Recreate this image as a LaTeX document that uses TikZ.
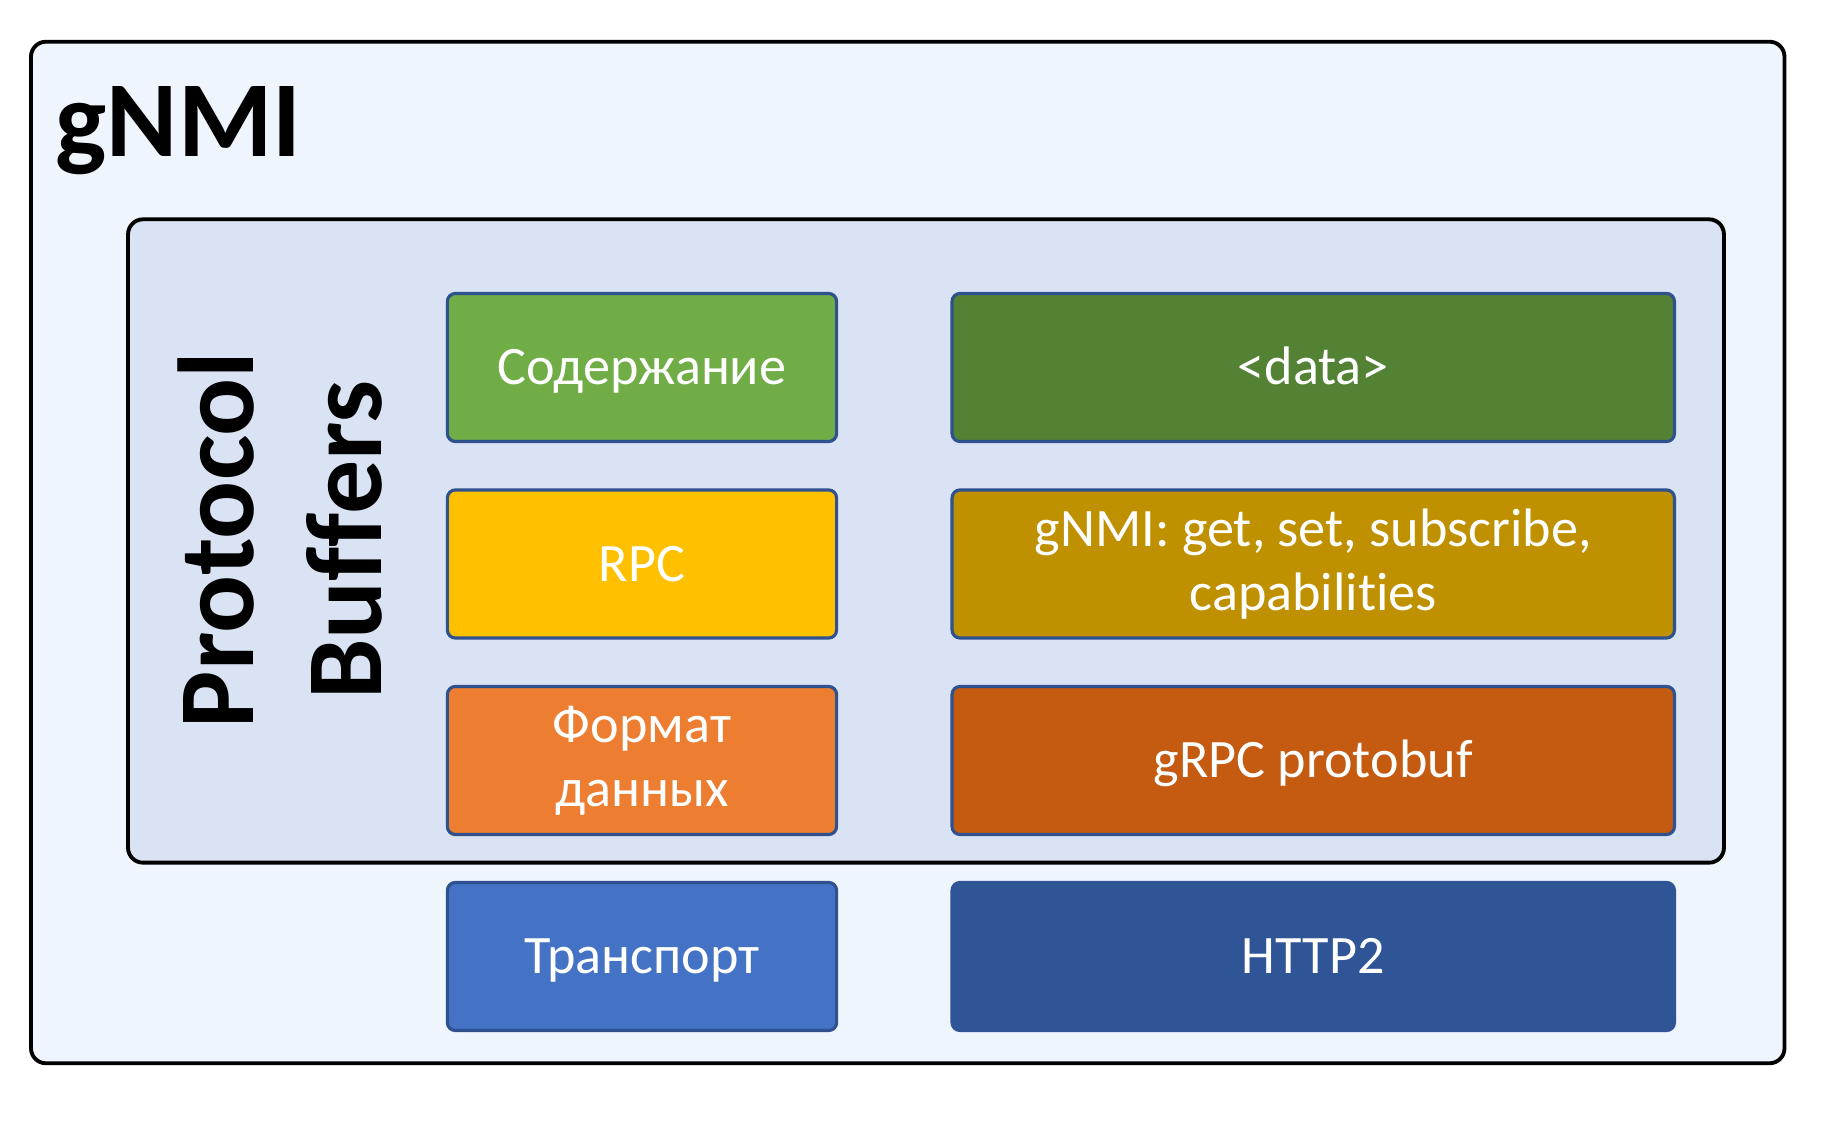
\documentclass[tikz,border=0pt]{standalone}
\usepackage{fontspec}
\setmainfont{Carlito}[Ligatures=NoCommon]
\definecolor{outerfill}{HTML}{EEF5FD}
\definecolor{innerfill}{HTML}{DAE3F3}
\definecolor{layerline}{HTML}{2F528F}
\definecolor{contentgreen}{HTML}{70AD47}
\definecolor{datagreen}{HTML}{548235}
\definecolor{rpcyellow}{HTML}{FFC000}
\definecolor{opsgold}{HTML}{BF9000}
\definecolor{formatorange}{HTML}{ED7D31}
\definecolor{protorust}{HTML}{C55A11}
\definecolor{transportblue}{HTML}{4472C4}
\definecolor{httpblue}{HTML}{2F5597}
\tikzset{
  frame/.style={draw=black, line width=1.1pt, rounded corners=0.15cm},
  layer/.style={draw=layerline, line width=0.9pt, rounded corners=0.08cm,
    text=white, align=center, inner sep=0pt, minimum height=1.48cm,
    font=\fontsize{15.4}{18.2}\selectfont},
  oneline/.style={text height=9.9pt, text depth=0pt},
  leftbox/.style={layer, minimum width=3.89cm},
  rightbox/.style={layer, minimum width=7.22cm},
}
\begin{document}
\begin{tikzpicture}[x=0.01cm, y=-0.01cm]
  \useasboundingbox (0,0) rectangle (1832,1128);
  % frames
  \node (gnmi) [frame, fill=outerfill, minimum width=17.525cm, minimum height=10.21cm] at (907.75,552.5) {};
  \node (pb) [frame, fill=innerfill, minimum width=15.95cm, minimum height=6.43cm] at (926,541) {};
  \node (gnmititle) [anchor=base west, inner sep=0pt, font=\bfseries\fontsize{30.7}{36}\selectfont] at (55,157) {gNMI};
  \node (pbtitle) [rotate=90, align=center, inner sep=0pt, font=\bfseries\fontsize{30.7}{36.4}\selectfont] at (280.5,540) {Protocol\\Buffers};
  % left column
  \node (content) [leftbox, oneline, fill=contentgreen] at (642,367.5) {Содержание};
  \node (rpc) [leftbox, oneline, fill=rpcyellow] at (642,564) {RPC};
  \node (format) [leftbox, fill=formatorange] at (642,760.5) {Формат\\данных};
  \node (transport) [leftbox, oneline, fill=transportblue] at (642,956.5) {Транспорт};
  % right column
  \node (data) [rightbox, oneline, fill=datagreen] at (1313.25,367.5) {<data>};
  \node (ops) [rightbox, fill=opsgold] at (1313.25,564) {gNMI: get, set, subscribe,\\capabilities};
  \node (protobuf) [rightbox, oneline, fill=protorust] at (1313.25,760.5) {gRPC protobuf};
  \node (http) [rightbox, oneline, fill=httpblue, draw=httpblue] at (1313.25,956.5) {HTTP2};
\end{tikzpicture}
\end{document}
